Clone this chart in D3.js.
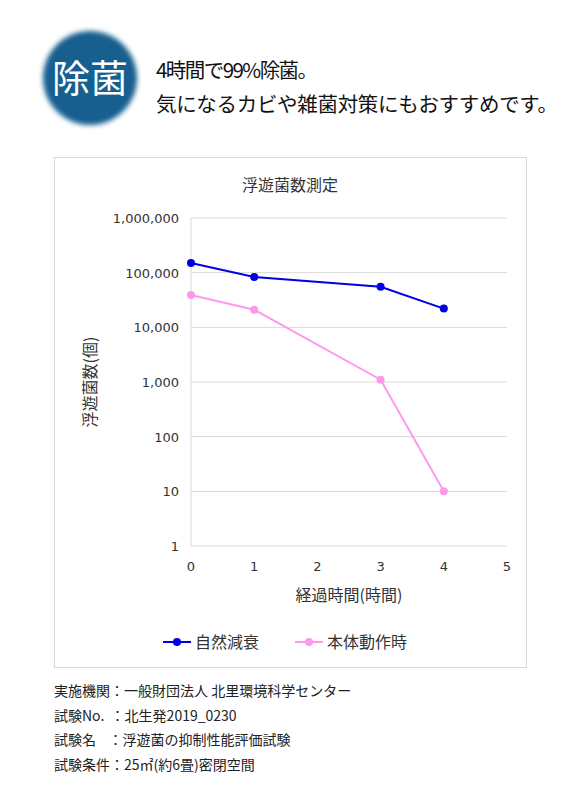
<!DOCTYPE html><html><head><meta charset="utf-8"><script src="https://cdn.jsdelivr.net/npm/d3@7"></script>
<style>body{margin:0;background:#fff}svg{font-family:"Noto Sans CJK JP","Noto Sans",sans-serif}</style></head><body>
<script>
const hours=[0,1,3,4];
const natural=[150000,83000,55000,22000];
const running=[39000,21000,1100,10];
const seriesNames=["自然減衰","本体動作時"];
const yTicks=[1,10,100,1000,10000,100000,1000000];
const xTicks=[0,1,2,3,4,5];
const notes=["実施機関：一般財団法人 北里環境科学センター","試験No.  ：北生発2019_0230","試験名    ：浮遊菌の抑制性能評価試験","試験条件：25㎡(約6畳)密閉空間"];

const svg=d3.select("body").append("svg").attr("width",576).attr("height",785);
const defs=svg.append("defs");
const f=defs.append("filter").attr("id","b").attr("x","-20%").attr("y","-20%").attr("width","140%").attr("height","140%");
f.append("feGaussianBlur").attr("stdDeviation",2.5);
svg.append("circle").attr("cx",90).attr("cy",78).attr("r",47).attr("fill","#145f8e").attr("filter","url(#b)");
svg.append("text").attr("x",90).attr("y",92).attr("text-anchor","middle").attr("fill","#fff").attr("font-size",38).text("除菌");
svg.append("text").attr("x",156).attr("y",78).attr("font-size",20.5).attr("fill","#111").attr("textLength",162).text("4時間で99%除菌。");
svg.append("text").attr("x",156).attr("y",112).attr("font-size",20.5).attr("fill","#111").attr("textLength",402).text("気になるカビや雑菌対策にもおすすめです。");

svg.append("rect").attr("x",54.5).attr("y",157.5).attr("width",472).attr("height",510).attr("fill","#fff").attr("stroke","#d9d9d9");
svg.append("text").attr("x",290).attr("y",191).attr("text-anchor","middle").attr("font-size",16).attr("fill","#333").text("浮遊菌数測定");

const x=d3.scaleLinear().domain([0,5]).range([191,507]);
const y=d3.scaleLog().domain([1,1000000]).range([546,218]);
const g=svg.append("g");
g.selectAll(".gl").data(yTicks).join("line").attr("x1",191).attr("x2",507).attr("y1",d=>y(d)).attr("y2",d=>y(d)).attr("stroke","#d9d9d9");
g.append("line").attr("x1",191).attr("x2",191).attr("y1",218).attr("y2",546).attr("stroke","#d9d9d9");
g.selectAll(".yl").data(yTicks).join("text").attr("x",179).attr("y",d=>y(d)+5).attr("text-anchor","end").attr("font-size",13).attr("fill","#333").attr("font-family","Verdana,DejaVu Sans,sans-serif").text(d=>d3.format(",")(d));
g.selectAll(".xl").data(xTicks).join("text").attr("x",d=>x(d)).attr("y",571).attr("text-anchor","middle").attr("font-size",13).attr("fill","#333").attr("font-family","Verdana,DejaVu Sans,sans-serif").text(d=>d);
svg.append("text").attr("x",349).attr("y",601).attr("text-anchor","middle").attr("font-size",16).attr("fill","#333").text("経過時間(時間)");
svg.append("text").attr("transform","translate(96,382) rotate(-90)").attr("text-anchor","middle").attr("font-size",16).attr("fill","#333").text("浮遊菌数(個)");

const line=d3.line().x((d,i)=>x(hours[i])).y(d=>y(d));
const cols=["#0000e6","#ff99ee"];
[natural,running].forEach((s,k)=>{
  svg.append("path").attr("d",line(s)).attr("fill","none").attr("stroke",cols[k]).attr("stroke-width",2);
  svg.selectAll(null).data(s).join("circle").attr("cx",(d,i)=>x(hours[i])).attr("cy",d=>y(d)).attr("r",4).attr("fill",cols[k]);
});
const lx=[163,295];
seriesNames.forEach((n,k)=>{
  svg.append("line").attr("x1",lx[k]).attr("x2",lx[k]+28).attr("y1",642).attr("y2",642).attr("stroke",cols[k]).attr("stroke-width",2);
  svg.append("circle").attr("cx",lx[k]+14).attr("cy",642).attr("r",4).attr("fill",cols[k]);
  svg.append("text").attr("x",lx[k]+32).attr("y",648).attr("font-size",16).attr("fill","#333").text(n);
});
svg.selectAll(".n").data(notes).join("text").attr("x",54).attr("y",(d,i)=>696+i*24.5).attr("font-size",14).attr("fill","#222").attr("xml:space","preserve").style("white-space","pre").text(d=>d);
</script></body></html>
